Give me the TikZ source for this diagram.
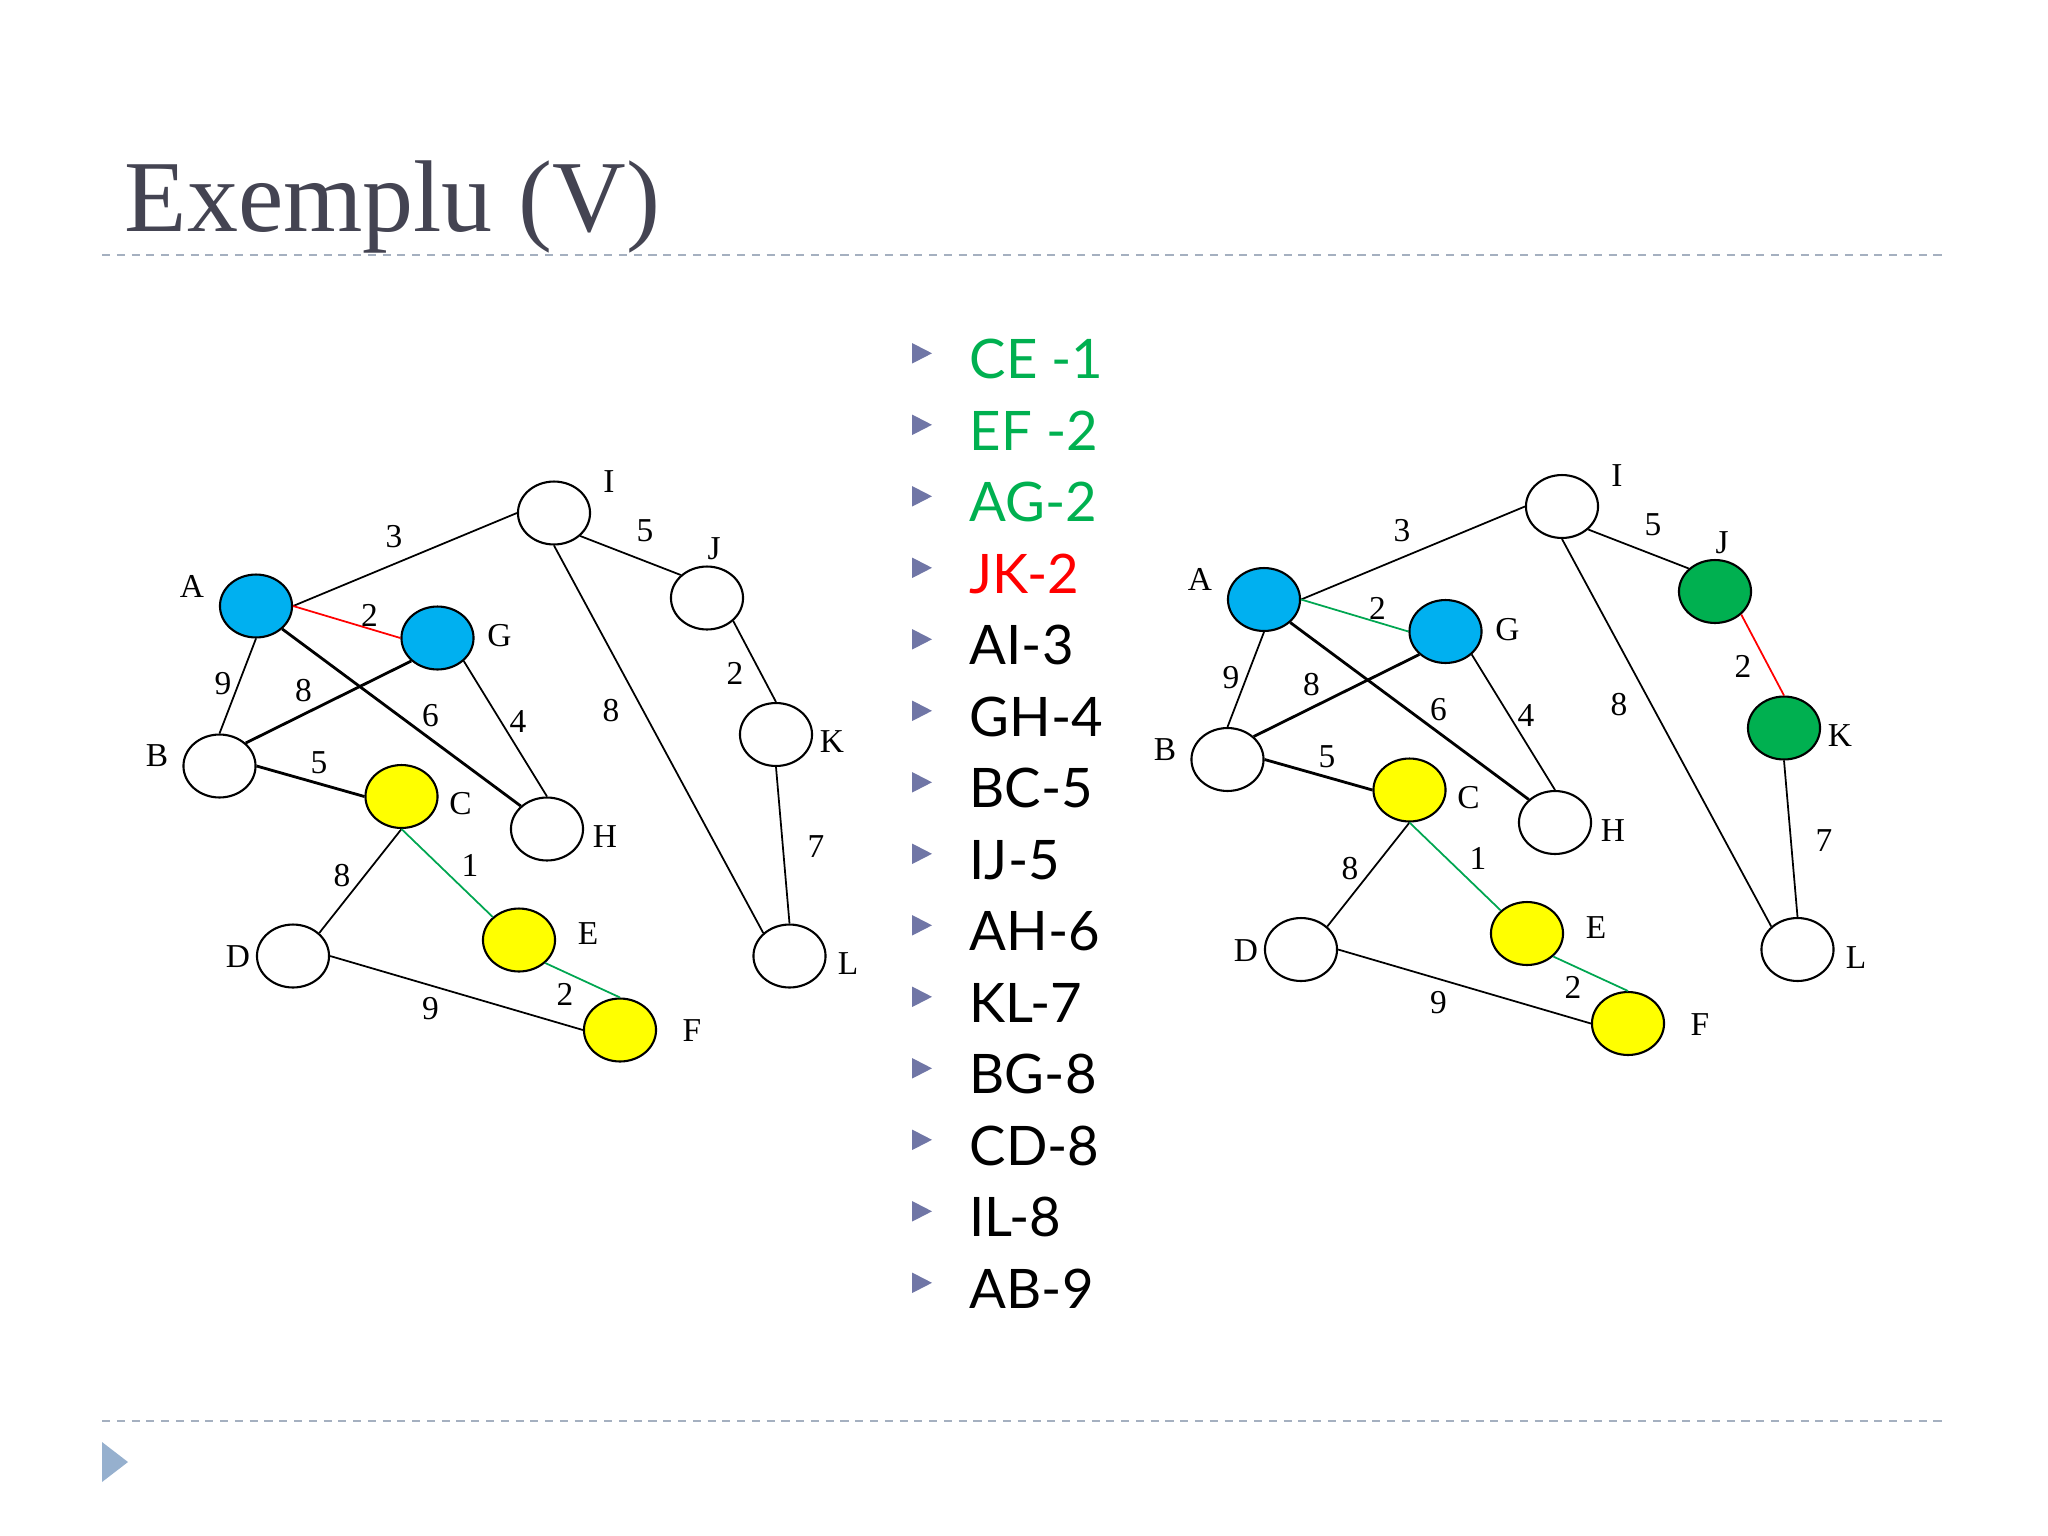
\documentclass[tikz,border=0pt]{standalone}
\usepackage{fontspec}
\setmainfont{Liberation Serif}
\newfontfamily\listfont{Lato}
\usetikzlibrary{shapes.geometric}

\definecolor{nodeblue}{RGB}{0,176,240}
\definecolor{nodeyellow}{RGB}{255,255,0}
\definecolor{nodegreen}{RGB}{0,176,80}
\definecolor{edgegreen}{RGB}{0,166,81}
\definecolor{edgered}{RGB}{255,0,0}
\definecolor{titlegray}{RGB}{68,68,82}
\definecolor{rulegray}{RGB}{165,176,192}
\definecolor{bulletblue}{RGB}{112,118,166}
\definecolor{cornerblue}{RGB}{150,176,206}

\begin{document}
\begin{tikzpicture}[
  x=0.01cm, y=-0.01cm,
  vnode/.style={ellipse, draw=black, line width=0.6pt, fill=white, inner sep=0pt, minimum width=20.5pt, minimum height=17.9pt},
  vlabel/.style={font=\fontsize{9.5}{11}\selectfont, inner sep=0pt},
  wlabel/.style={font=\fontsize{9.5}{11}\selectfont, inner sep=0pt},
  edge/.style={line width=0.5pt, draw=black},
  thickedge/.style={line width=0.8pt, draw=black},
  item/.style={font=\listfont\fontsize{15.5}{18}\selectfont, anchor=base west, inner sep=0pt},
  rule/.style={draw=rulegray, line width=0.55pt, dash pattern=on 2.3pt off 1.9pt}
]
  \useasboundingbox (0,0) rectangle (2048,1536);

  % Titlu si linii
  \node[font=\fontsize{29}{34}\selectfont, text=titlegray, anchor=base west, inner sep=0pt] (title) at (124,231) {Exemplu (V)};
  \coordinate (rt1) at (102,255); \coordinate (rt2) at (1946,255);
  \coordinate (rb1) at (102,1421); \coordinate (rb2) at (1946,1421);
  \draw[rule] (rt1) -- (rt2);
  \draw[rule] (rb1) -- (rb2);
  \fill[cornerblue] (102,1442) -- (128,1462) -- (102,1482) -- cycle;

  % Cele doua grafuri (stanga / dreapta)
  \foreach \gr/\sx/\sy/\jkfill/\agcol/\jkcol in {l/0/0/white/edgered/black, r/1008/-6.5/nodegreen/edgegreen/edgered}{
    \begin{scope}[shift={(\sx,\sy)}]
      % Varfuri
      \node[vnode, fill=nodeblue] (\gr A) at (256,606) {};
      \node[vnode] (\gr B) at (219.5,766) {};
      \node[vnode, fill=nodeyellow] (\gr C) at (401.5,796.5) {};
      \node[vnode] (\gr D) at (293,956) {};
      \node[vnode, fill=nodeyellow] (\gr E) at (519,940) {};
      \node[vnode, fill=nodeyellow] (\gr F) at (620,1030) {};
      \node[vnode, fill=nodeblue] (\gr G) at (437.5,638) {};
      \node[vnode] (\gr H) at (547,829) {};
      \node[vnode] (\gr I) at (554,513) {};
      \node[vnode, fill=\jkfill] (\gr J) at (707,598) {};
      \node[vnode, fill=\jkfill] (\gr K) at (776,734.5) {};
      \node[vnode] (\gr L) at (789.5,956) {};

      % Etichete varfuri
      \node[vlabel] (\gr labA) at (192,586) {A};
      \node[vlabel] (\gr labB) at (157,756) {B};
      \node[vlabel] (\gr labC) at (460.5,804) {C};
      \node[vlabel] (\gr labD) at (238,957) {D};
      \node[vlabel] (\gr labE) at (588,934) {E};
      \node[vlabel] (\gr labF) at (692,1031) {F};
      \node[vlabel] (\gr labG) at (499.5,636) {G};
      \node[vlabel] (\gr labH) at (605,837) {H};
      \node[vlabel] (\gr labI) at (609,482) {I};
      \node[vlabel] (\gr labJ) at (714,549) {J};
      \node[vlabel] (\gr labK) at (832,742) {K};
      \node[vlabel] (\gr labL) at (848,964) {L};

      % Muchii
      \draw[edge] (\gr A.east) -- (\gr I.west);
      \draw[edge] (\gr I.south east) -- (\gr J.north west);
      \draw[edge, draw=\jkcol] (\gr J.south east) -- (\gr K.north);
      \draw[edge] (\gr K.south) -- (\gr L.north);
      \draw[edge] (\gr I.south) -- (\gr L.north west);
      \draw[edge, draw=\agcol] (\gr A.east) -- (\gr G.west);
      \draw[edge] (\gr A.south) -- (\gr B.north);
      \draw[thickedge] (\gr A.south east) -- (\gr H.north west);
      \draw[thickedge] (\gr B.north east) -- (\gr G.south west);
      \draw[edge] (\gr G.south east) -- (\gr H.north);
      \draw[thickedge] (\gr B.east) -- (\gr C.west);
      \draw[edge] (\gr C.south) -- (\gr D.north east);
      \draw[edge, draw=edgegreen] (\gr C.south) -- (\gr E.north west);
      \draw[edge, draw=edgegreen] (\gr E.south east) -- (\gr F.north);
      \draw[edge] (\gr D.east) -- (\gr F.west);

      % Costuri
      \node[wlabel] (\gr wAI) at (394,537) {3};
      \node[wlabel] (\gr wIJ) at (645,531) {5};
      \node[wlabel] (\gr wAG) at (369.5,615) {2};
      \node[wlabel] (\gr wAB) at (223,684) {9};
      \node[wlabel] (\gr wBG) at (303.5,691) {8};
      \node[wlabel] (\gr wAH) at (430.5,716) {6};
      \node[wlabel] (\gr wGH) at (518,721.5) {4};
      \node[wlabel] (\gr wIL) at (611,711) {8};
      \node[wlabel] (\gr wJK) at (735,673) {2};
      \node[wlabel] (\gr wBC) at (319,763) {5};
      \node[wlabel] (\gr wKL) at (816,847) {7};
      \node[wlabel] (\gr wCD) at (342,875.5) {8};
      \node[wlabel] (\gr wCE) at (470,865) {1};
      \node[wlabel] (\gr wEF) at (565,994) {2};
      \node[wlabel] (\gr wDF) at (430.5,1009) {9};
    \end{scope}
  }

  % Lista muchiilor sortate
  \foreach \txt/\col [count=\k from 0] in {CE -1/nodegreen, EF -2/nodegreen, AG-2/nodegreen, JK-2/edgered,
      AI-3/black, GH-4/black, BC-5/black, IJ-5/black, AH-6/black, KL-7/black,
      BG-8/black, CD-8/black, IL-8/black, AB-9/black}{
    \fill[bulletblue] (912,343+71.5*\k) -- (932,353.3+71.5*\k) -- (912,363.6+71.5*\k) -- cycle;
    \node[item, text=\col] (item\k) at (969,378.5+71.5*\k) {\txt};
  }
\end{tikzpicture}
\end{document}
